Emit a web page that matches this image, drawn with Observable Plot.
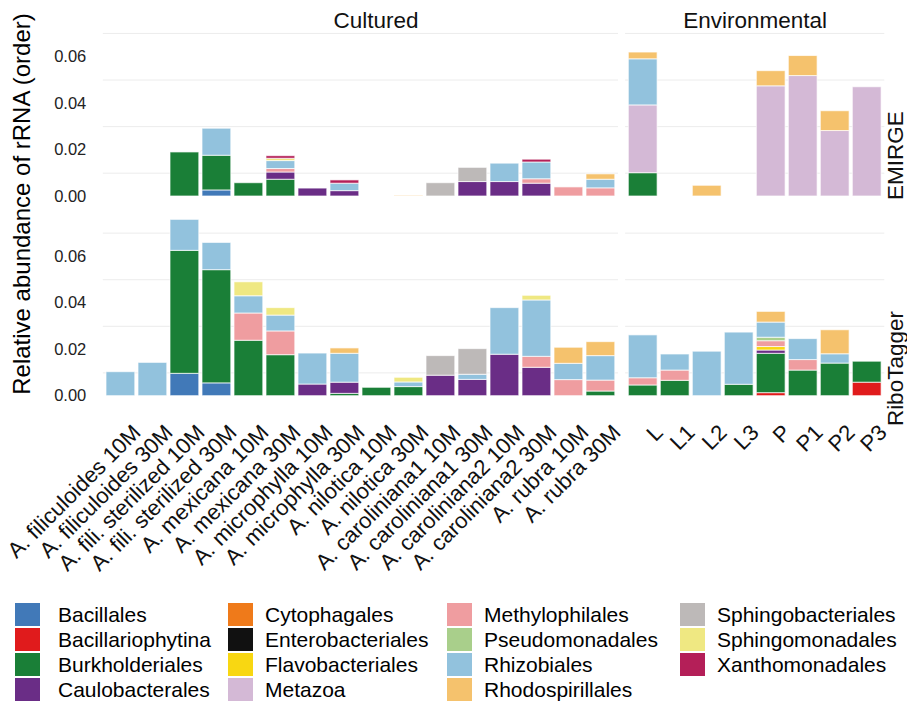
<!DOCTYPE html>
<html><head><meta charset="utf-8">
<script src="https://cdn.jsdelivr.net/npm/d3@7"></script>
<script src="https://cdn.jsdelivr.net/npm/@observablehq/plot@0.6"></script>
<style>
body{margin:0;background:#fff;font-family:"Liberation Sans",Arial,Helvetica,sans-serif;}
#wrap{position:relative;width:907px;height:702px;overflow:hidden;}
#plots{position:absolute;left:0;top:0;display:flex;}
#plots svg{display:block;overflow:visible;}
#ytitle{position:absolute;left:22px;top:204px;transform:translate(-50%,-50%) rotate(-90deg);white-space:nowrap;font-size:24px;color:#000;}
.lg{position:absolute;font-size:21px;line-height:23px;white-space:nowrap;color:#000;}
.sw{position:absolute;width:25px;height:23px;}
</style></head><body>
<div id="wrap"><div id="plots"></div><div id="ytitle">Relative abundance of rRNA (order)</div><div id="legend"></div></div>
<script>
const orders = ["Bacillales","Bacillariophytina","Burkholderiales","Caulobacterales","Cytophagales","Enterobacteriales","Flavobacteriales","Metazoa","Methylophilales","Pseudomonadales","Rhizobiales","Rhodospirillales","Sphingobacteriales","Sphingomonadales","Xanthomonadales"];
const orderColors = ["#4179b8","#e01b1c","#1a7f37","#6a2d86","#ef7a1a","#111111","#f8d712","#d4b9d6","#ef9da0","#a9cf8b","#92c2dd","#f5c26d","#bdb9b8","#efe882","#b41f58"];
const culturedSamples = ["A. filiculoides 10M","A. filiculoides 30M","A. fili. sterilized 10M","A. fili. sterilized 30M","A. mexicana 10M","A. mexicana 30M","A. microphylla 10M","A. microphylla 30M","A. nilotica 10M","A. nilotica 30M","A. caroliniana1 10M","A. caroliniana1 30M","A. caroliniana2 10M","A. caroliniana2 30M","A. rubra 10M","A. rubra 30M"];
const environmentalSamples = ["L","L1","L2","L3","P","P1","P2","P3"];
const panels = ["EMIRGE","RiboTagger"];
const columnTitles = ["Cultured","Environmental"];
const yTicks = [0, 0.02, 0.04, 0.06];
const gridTicks = [0.01, 0.03, 0.05, 0.07];

const emirgeCultured = [
  ["A. fili. sterilized 10M","Burkholderiales",0.0189],
  ["A. fili. sterilized 30M","Bacillales",0.0026],["A. fili. sterilized 30M","Burkholderiales",0.0149],["A. fili. sterilized 30M","Rhizobiales",0.0116],
  ["A. mexicana 10M","Burkholderiales",0.0057],
  ["A. mexicana 30M","Burkholderiales",0.0072],["A. mexicana 30M","Caulobacterales",0.0031],["A. mexicana 30M","Methylophilales",0.0015],["A. mexicana 30M","Rhizobiales",0.0034],["A. mexicana 30M","Sphingomonadales",0.0010],["A. mexicana 30M","Xanthomonadales",0.0011],
  ["A. microphylla 10M","Caulobacterales",0.0034],
  ["A. microphylla 30M","Caulobacterales",0.0023],["A. microphylla 30M","Rhizobiales",0.0032],["A. microphylla 30M","Xanthomonadales",0.0014],
  ["A. nilotica 30M","Rhodospirillales",0.0003],
  ["A. caroliniana1 10M","Sphingobacteriales",0.0057],
  ["A. caroliniana1 30M","Caulobacterales",0.0062],["A. caroliniana1 30M","Sphingobacteriales",0.0061],
  ["A. caroliniana2 10M","Caulobacterales",0.0062],["A. caroliniana2 10M","Rhizobiales",0.0079],
  ["A. caroliniana2 30M","Caulobacterales",0.0055],["A. caroliniana2 30M","Methylophilales",0.0019],["A. caroliniana2 30M","Rhizobiales",0.0072],["A. caroliniana2 30M","Xanthomonadales",0.0012],
  ["A. rubra 10M","Methylophilales",0.0039],
  ["A. rubra 30M","Methylophilales",0.0035],["A. rubra 30M","Rhizobiales",0.0037],["A. rubra 30M","Rhodospirillales",0.0023]
];
const emirgeEnvironmental = [
  ["L","Burkholderiales",0.0100],["L","Metazoa",0.0291],["L","Rhizobiales",0.0198],["L","Rhodospirillales",0.0029],
  ["L2","Rhodospirillales",0.0046],
  ["P","Metazoa",0.0473],["P","Rhodospirillales",0.0065],
  ["P1","Metazoa",0.0517],["P1","Rhodospirillales",0.0086],
  ["P2","Metazoa",0.0281],["P2","Rhodospirillales",0.0085],
  ["P3","Metazoa",0.0469]
];
const riboCultured = [
  ["A. filiculoides 10M","Rhizobiales",0.0103],
  ["A. filiculoides 30M","Rhizobiales",0.0143],
  ["A. fili. sterilized 10M","Bacillales",0.0096],["A. fili. sterilized 10M","Burkholderiales",0.0528],["A. fili. sterilized 10M","Rhizobiales",0.0133],
  ["A. fili. sterilized 30M","Bacillales",0.0055],["A. fili. sterilized 30M","Burkholderiales",0.0486],["A. fili. sterilized 30M","Rhizobiales",0.0117],
  ["A. mexicana 10M","Burkholderiales",0.0238],["A. mexicana 10M","Methylophilales",0.0117],["A. mexicana 10M","Rhizobiales",0.0074],["A. mexicana 10M","Sphingomonadales",0.0060],
  ["A. mexicana 30M","Burkholderiales",0.0176],["A. mexicana 30M","Methylophilales",0.0102],["A. mexicana 30M","Rhizobiales",0.0068],["A. mexicana 30M","Sphingomonadales",0.0032],
  ["A. microphylla 10M","Caulobacterales",0.0050],["A. microphylla 10M","Rhizobiales",0.0133],
  ["A. microphylla 30M","Burkholderiales",0.0010],["A. microphylla 30M","Caulobacterales",0.0048],["A. microphylla 30M","Rhizobiales",0.0124],["A. microphylla 30M","Rhodospirillales",0.0023],
  ["A. nilotica 10M","Burkholderiales",0.0036],
  ["A. nilotica 30M","Burkholderiales",0.0039],["A. nilotica 30M","Rhizobiales",0.0020],["A. nilotica 30M","Sphingomonadales",0.0020],
  ["A. caroliniana1 10M","Caulobacterales",0.0088],["A. caroliniana1 10M","Sphingobacteriales",0.0084],
  ["A. caroliniana1 30M","Caulobacterales",0.0070],["A. caroliniana1 30M","Rhizobiales",0.0022],["A. caroliniana1 30M","Sphingobacteriales",0.0110],
  ["A. caroliniana2 10M","Caulobacterales",0.0178],["A. caroliniana2 10M","Rhizobiales",0.0200],
  ["A. caroliniana2 30M","Caulobacterales",0.0122],["A. caroliniana2 30M","Methylophilales",0.0047],["A. caroliniana2 30M","Rhizobiales",0.0242],["A. caroliniana2 30M","Sphingomonadales",0.0020],
  ["A. rubra 10M","Methylophilales",0.0069],["A. rubra 10M","Rhizobiales",0.0070],["A. rubra 10M","Rhodospirillales",0.0069],
  ["A. rubra 30M","Burkholderiales",0.0020],["A. rubra 30M","Methylophilales",0.0047],["A. rubra 30M","Rhizobiales",0.0105],["A. rubra 30M","Rhodospirillales",0.0060]
];
const riboEnvironmental = [
  ["L","Burkholderiales",0.0046],["L","Methylophilales",0.0031],["L","Rhizobiales",0.0184],
  ["L1","Burkholderiales",0.0066],["L1","Methylophilales",0.0044],["L1","Rhizobiales",0.0069],
  ["L2","Rhizobiales",0.0191],
  ["L3","Burkholderiales",0.0049],["L3","Rhizobiales",0.0224],
  ["P","Bacillariophytina",0.0013],["P","Burkholderiales",0.0169],["P","Caulobacterales",0.0014],["P","Flavobacteriales",0.0015],["P","Methylophilales",0.0025],["P","Pseudomonadales",0.0015],["P","Rhizobiales",0.0065],["P","Rhodospirillales",0.0046],
  ["P1","Burkholderiales",0.0110],["P1","Methylophilales",0.0045],["P1","Rhizobiales",0.0090],
  ["P2","Burkholderiales",0.0140],["P2","Rhizobiales",0.0040],["P2","Rhodospirillales",0.0103],
  ["P3","Bacillariophytina",0.0058],["P3","Burkholderiales",0.0090]
];

const toRows = (panel, triples) => triples.map(([sample, order, value]) => ({panel, sample, order, value}));
const culturedRows = [...toRows("EMIRGE", emirgeCultured), ...toRows("RiboTagger", riboCultured)];
const environmentalRows = [...toRows("EMIRGE", emirgeEnvironmental), ...toRows("RiboTagger", riboEnvironmental)];

const FONT = '"Liberation Sans", Arial, Helvetica, sans-serif';
const H = 595, TOP = 17.1, FACET_BOTTOM = 404.3;
const yDomain = [-0.0037, 0.0768];

function panelPlot({samples, rows, width, marginLeft, marginRight, title, titleDx, left, right}) {
  const marks = [
    Plot.ruleY(gridTicks, {y: d => d, stroke: "#ececec", strokeWidth: 1}),
    Plot.barY(rows, {fy: "panel", x: "sample", y: "value", fill: "order", order: orders, stroke: "white", strokeOpacity: 0.7, strokeWidth: 1}),
    Plot.text([panels[0]], {fy: d => d, text: () => title, frameAnchor: "top", lineAnchor: "middle", dx: titleDx, dy: 3, fontSize: 22.5, fill: "#111"}),
    Plot.text(samples, {x: d => d, fy: () => panels[1], text: d => d, frameAnchor: "bottom", rotate: -45, textAnchor: "end", lineAnchor: "top", dx: 10, dy: 18, fontSize: 22, fill: "#111"})
  ];
  if (left) marks.push(Plot.axisY({ticks: yTicks, tickFormat: d3.format(".2f"), tickSize: 0, tickPadding: 17, fontSize: 16.5, label: null, fill: "#222"}));
  if (right) marks.push(Plot.text(panels, {fy: d => d, text: d => d, frameAnchor: "right", rotate: -90, dx: 10.5, fontSize: 22.5, fill: "#111"}));
  return Plot.plot({
    width, height: H, marginTop: TOP, marginBottom: H - FACET_BOTTOM, marginLeft, marginRight,
    style: {fontFamily: FONT, background: "transparent", overflow: "visible"},
    x: {domain: samples, padding: 0.1, round: false, axis: null},
    y: {domain: yDomain, axis: null},
    fy: {domain: panels, paddingInner: 0.061, paddingOuter: 0, round: false, axis: null},
    color: {domain: orders, range: orderColors},
    marks
  });
}

const plotsDiv = document.getElementById("plots");
plotsDiv.append(panelPlot({samples: culturedSamples, rows: culturedRows, width: 618, marginLeft: 102.8, marginRight: 0, title: columnTitles[0], titleDx: 15, left: true}));
plotsDiv.append(panelPlot({samples: environmentalSamples, rows: environmentalRows, width: 289, marginLeft: 7.1, marginRight: 22.7, title: columnTitles[1], titleDx: 0, right: true}));

// legend (column-major, 4 rows)
const legend = document.getElementById("legend");
const colSwatchX = [15, 228, 447, 680];
const colTextX = [58, 265, 484, 717];
orders.forEach((o, i) => {
  const c = Math.floor(i / 4), r = i % 4;
  const top = 603 + r * 25;
  const sw = document.createElement("div");
  sw.className = "sw";
  sw.style.left = colSwatchX[c] + "px"; sw.style.top = top + "px";
  sw.style.background = orderColors[i];
  legend.append(sw);
  const t = document.createElement("div");
  t.className = "lg";
  t.style.left = colTextX[c] + "px"; t.style.top = top + "px";
  t.textContent = o;
  legend.append(t);
});
</script>
</body></html>
